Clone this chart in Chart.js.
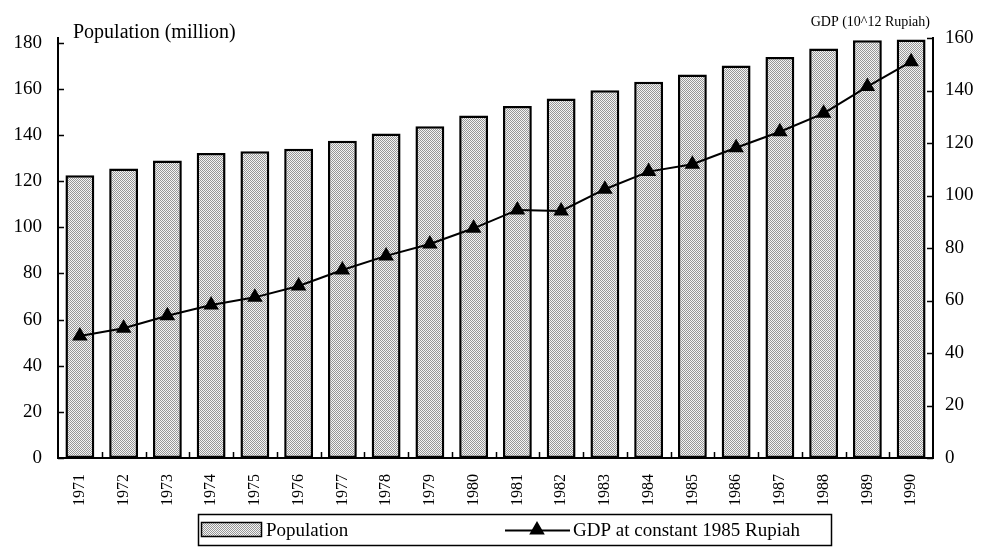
<!DOCTYPE html>
<html>
<head>
<meta charset="utf-8">
<script src="https://cdn.jsdelivr.net/npm/chart.js@4/dist/chart.umd.min.js"></script>
<style>
  body { margin: 0; background: #fff; }
  canvas { display: block; }
</style>
</head>
<body>
<canvas id="chart-indonesia" width="984" height="552"></canvas>
<script>
const years = ['1971','1972','1973','1974','1975','1976','1977','1978','1979','1980',
               '1981','1982','1983','1984','1985','1986','1987','1988','1989','1990'];
// population, million (left axis)
const population = [122.5, 125.4, 128.9, 132.2, 132.9, 134.0, 137.5, 140.6, 143.8, 148.4,
                    152.5, 155.8, 159.4, 163.0, 166.2, 170.1, 173.8, 177.5, 181.0, 181.4];
// GDP at constant 1985 prices, 10^12 Rupiah (right axis)
const gdp = [46.5, 49.4, 54.2, 58.3, 61.2, 65.5, 71.6, 77.0, 81.5, 87.5,
             94.5, 94.1, 102.4, 109.1, 111.9, 118.2, 124.3, 131.3, 141.5, 151.0];
const popTicks = [0, 20, 40, 60, 80, 100, 120, 140, 160, 180];
const gdpTicks = [0, 20, 40, 60, 80, 100, 120, 140, 160];

const serif = '"Liberation Serif", "DejaVu Serif", serif';

const canvas = document.getElementById('chart-indonesia');
const ctx = canvas.getContext('2d');

// stippled grey fill like the printed bars
const patCanvas = document.createElement('canvas');
patCanvas.width = 2;
patCanvas.height = 2;
const pctx = patCanvas.getContext('2d');
pctx.fillStyle = '#f4f4f4';
pctx.fillRect(0, 0, 2, 2);
pctx.fillStyle = '#969696';
pctx.fillRect(0, 0, 1, 1);
pctx.fillRect(1, 1, 1, 1);
const stipple = ctx.createPattern(patCanvas, 'repeat');

function keepTicks(list) {
  return (scale) => {
    scale.ticks = list.map(v => ({ value: v }));
  };
}

// titles, inward tick marks and the boxed legend
const extras = {
  id: 'extras',
  afterDraw(chart) {
    const c = chart.ctx;
    const area = chart.chartArea;
    const yL = chart.scales.y;
    const yR = chart.scales.y1;
    c.save();
    c.strokeStyle = '#000';
    c.lineWidth = 1.5;
    c.beginPath();
    popTicks.forEach(v => {
      const py = Math.round(yL.getPixelForValue(v)) + 0.5;
      c.moveTo(area.left, py);
      c.lineTo(area.left + 6, py);
    });
    gdpTicks.forEach(v => {
      const py = Math.round(yR.getPixelForValue(v)) + 0.5;
      c.moveTo(area.right, py);
      c.lineTo(area.right - 6, py);
    });
    const step = (area.right - area.left) / years.length;
    for (let i = 1; i < years.length; i++) {
      const px = Math.round(area.left + i * step) + 0.5;
      c.moveTo(px, area.bottom);
      c.lineTo(px, area.bottom - 6);
    }
    c.stroke();

    c.fillStyle = '#000';
    c.textBaseline = 'alphabetic';
    c.font = '20px ' + serif;
    c.textAlign = 'left';
    c.fillText('Population (million)', 73, 38);
    c.font = '14px ' + serif;
    c.textAlign = 'right';
    c.fillText('GDP (10^12 Rupiah)', 930, 26);

    // legend
    const barSet = chart.data.datasets.find(d => d.type === 'bar');
    const lineSet = chart.data.datasets.find(d => d.type === 'line');
    c.lineWidth = 1.5;
    c.strokeRect(198.5, 514.5, 633, 31);
    c.fillStyle = stipple;
    c.fillRect(201, 522, 61, 15);
    c.strokeRect(201.5, 522.5, 60, 14);
    c.fillStyle = '#000';
    c.font = '19px ' + serif;
    c.textAlign = 'left';
    c.textBaseline = 'middle';
    c.fillText(barSet.label, 266, 531);

    c.lineWidth = 2;
    c.beginPath();
    c.moveTo(505, 530.5);
    c.lineTo(570, 530.5);
    c.stroke();
    Chart.helpers.drawPoint(c, { pointStyle: 'triangle', radius: 7, rotation: 0, borderWidth: 1 }, 537, 530);
    c.fillText(lineSet.label, 573, 531);
    c.restore();
  }
};

new Chart(canvas, {
  data: {
    labels: years,
    datasets: [
      {
        type: 'line',
        label: 'GDP at constant 1985 Rupiah',
        data: gdp,
        yAxisID: 'y1',
        borderColor: '#000',
        borderWidth: 2,
        pointStyle: 'triangle',
        pointRadius: 7,
        pointBackgroundColor: '#000',
        pointBorderColor: '#000',
        tension: 0,
        order: 1
      },
      {
        type: 'bar',
        label: 'Population',
        data: population,
        yAxisID: 'y',
        backgroundColor: stipple,
        borderColor: '#000',
        borderWidth: 2.5,
        borderSkipped: false,
        barPercentage: 0.66,
        categoryPercentage: 1,
        order: 2
      }
    ]
  },
  options: {
    responsive: false,
    animation: false,
    layout: { padding: { top: 38, bottom: 40, left: 0, right: 0 } },
    plugins: {
      legend: { display: false },
      tooltip: { enabled: false }
    },
    scales: {
      x: {
        offset: true,
        grid: { display: false, drawTicks: false },
        border: { color: '#000', width: 2 },
        ticks: {
          color: '#000',
          font: { family: serif, size: 16 },
          minRotation: 90,
          maxRotation: 90,
          padding: 16,
          autoSkip: false
        },
        afterFit(scale) { scale.height = 54; }
      },
      y: {
        position: 'left',
        min: 0,
        max: 182,
        afterBuildTicks: keepTicks(popTicks),
        grid: { display: false, drawTicks: false },
        border: { color: '#000', width: 2 },
        ticks: { color: '#000', font: { family: serif, size: 19 }, padding: 16 },
        afterFit(scale) { scale.width = 58; }
      },
      y1: {
        position: 'right',
        min: 0,
        max: 160,
        afterBuildTicks: keepTicks(gdpTicks),
        grid: { display: false, drawTicks: false },
        border: { color: '#000', width: 2 },
        ticks: { color: '#000', font: { family: serif, size: 19 }, padding: 12 },
        afterFit(scale) { scale.width = 51; }
      }
    }
  },
  plugins: [extras]
});
</script>
</body>
</html>
